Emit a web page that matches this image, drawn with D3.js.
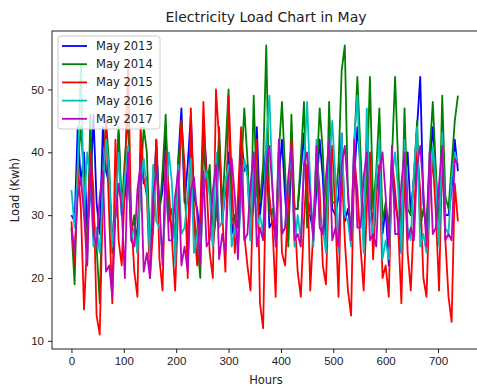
<!DOCTYPE html>
<html>
<head>
<meta charset="utf-8">
<script src="https://cdn.jsdelivr.net/npm/d3@7"></script>
<style>
  body { margin: 0; background: #fff; }
  svg { display: block; font-family: "DejaVu Sans", sans-serif; }
  .axis text { font-size: 11.5px; fill: #222; }
  .axis path, .axis line { stroke: #222; }
</style>
</head>
<body>
<div id="chart"></div>
<script>
// one reading every 6 hours, [00h, 06h, 12h, 18h] per day, 31 days of May
const hourStep = 6;
const totalHours = 743;
const seriesNames = ['May 2013', 'May 2014', 'May 2015', 'May 2016', 'May 2017'];
const seriesColors = ['#0000ff', '#008000', '#ff0000', '#00bfbf', '#bf00bf'];
const xTicks = [0, 100, 200, 300, 400, 500, 600, 700];
const yTicks = [10, 20, 30, 40, 50];

const load2013 = [
  30, 29, 44, 35,  40, 28, 33, 46,  32, 27, 44, 37,  35, 26, 30, 43,
  30, 33, 38, 28,  29, 26, 40, 35,  36, 25, 31, 42,  31, 34, 44, 30,
  28, 26, 39, 47,  32, 38, 46, 33,  31, 27, 45, 37,  36, 26, 30, 42,
  29, 34, 40, 27,  30, 28, 43, 37,  38, 27, 32, 44,  30, 35, 41, 28,
  29, 27, 36, 42,  33, 26, 40, 31,  31, 37, 43, 30,  30, 27, 34, 42,
  36, 25, 41, 31,  30, 33, 43, 29,  31, 27, 36, 44,  38, 26, 42, 32,
  29, 34, 38, 27,  31, 22, 37, 32,  29, 24, 35, 40,  30, 36, 44, 52,
  32, 27, 38, 44,  36, 26, 41, 30,  30, 34, 42, 37
];
const load2014 = [
  28, 19, 38, 44,  36, 22, 46, 30,  25, 16, 36, 45,  38, 24, 30, 44,
  31, 39, 46, 27,  30, 24, 35, 44,  40, 23, 28, 41,  30, 37, 46, 29,
  31, 26, 38, 45,  35, 24, 44, 30,  26, 20, 42, 34,  38, 25, 30, 44,
  31, 40, 50, 29,  30, 25, 37, 47,  39, 26, 49, 33,  32, 38, 57, 30,
  31, 26, 40, 48,  37, 25, 46, 31,  31, 39, 48, 28,  32, 27, 36, 47,
  40, 26, 48, 32,  32, 38, 53, 57,  33, 27, 41, 52,  40, 28, 35, 52,
  31, 37, 47, 29,  32, 28, 39, 52,  38, 26, 47, 31,  30, 36, 45, 28,
  31, 28, 40, 48,  37, 27, 49, 33,  31, 38, 45, 49
];
const load2015 = [
  29, 22, 38, 31,  15, 26, 40, 34,  14, 11, 33, 45,  30, 16, 42, 26,
  22, 35, 54, 30,  21, 17, 44, 36,  33, 20, 28, 42,  23, 18, 40, 34,
  26, 18, 32, 45,  38, 20, 47, 29,  22, 30, 48, 35,  24, 20, 50, 42,
  30, 21, 49, 36,  24, 33, 44, 27,  22, 18, 36, 42,  16, 12, 38, 33,
  28, 17, 40, 24,  22, 32, 42, 30,  21, 17, 29, 38,  18, 28, 40, 34,
  22, 19, 36, 41,  30, 17, 38, 26,  18, 14, 39, 34,  25, 18, 31, 40,
  23, 33, 38, 20,  22, 17, 39, 34,  28, 16, 38, 24,  18, 30, 40, 34,
  20, 17, 33, 39,  30, 18, 40, 26,  17, 13, 35, 29
];
const load2016 = [
  34, 28, 37, 54,  30, 40, 36, 25,  28, 24, 34, 42,  37, 25, 30, 40,
  30, 36, 41, 26,  28, 24, 35, 39,  34, 23, 38, 29,  28, 24, 31, 40,
  35, 22, 38, 27,  28, 33, 39, 24,  27, 23, 35, 37,  33, 25, 40, 28,
  29, 35, 38, 25,  28, 25, 32, 39,  36, 26, 40, 28,  30, 27, 42, 49,
  34, 26, 38, 27,  28, 35, 40, 25,  30, 26, 38, 48,  35, 25, 42, 29,
  28, 24, 38, 45,  36, 24, 43, 30,  29, 25, 42, 49,  35, 24, 47, 30,
  27, 36, 42, 23,  26, 23, 36, 40,  34, 24, 42, 28,  26, 37, 44, 25,
  27, 24, 33, 41,  35, 25, 43, 28,  27, 36, 40, 38
];
const load2017 = [
  28, 24, 33, 36,  30, 22, 38, 27,  25, 33, 37, 21,  22, 17, 30, 35,
  31, 20, 40, 26,  25, 34, 38, 21,  24, 20, 33, 37,  32, 22, 38, 26,
  26, 33, 37, 22,  25, 21, 34, 36,  30, 22, 37, 25,  26, 34, 38, 23,
  27, 24, 36, 39,  33, 23, 38, 26,  27, 35, 40, 25,  28, 26, 38, 41,
  34, 25, 42, 27,  28, 36, 41, 26,  27, 25, 38, 40,  33, 26, 41, 28,
  27, 36, 42, 26,  28, 25, 38, 41,  34, 26, 42, 28,  28, 36, 40, 26,
  27, 25, 37, 40,  33, 25, 41, 27,  27, 35, 40, 26,  28, 26, 38, 41,
  34, 25, 40, 27,  28, 35, 41, 26,  27, 26, 39, 38
];
const seriesValues = [load2013, load2014, load2015, load2016, load2017];

const width = 477, height = 390;
const margin = { top: 31, right: -3, bottom: 41, left: 52 };
const plotW = width - margin.left - margin.right;
const plotH = height - margin.top - margin.bottom;

const svg = d3.select('#chart').append('svg')
  .attr('width', width)
  .attr('height', height);

// matplotlib style 5% padding around the data
const allValues = seriesValues.flat();
const yMin = d3.min(allValues), yMax = d3.max(allValues);
const yPad = (yMax - yMin) * 0.05;
const xPad = totalHours * 0.05;

const x = d3.scaleLinear().domain([-xPad, totalHours + xPad]).range([0, plotW]);
const y = d3.scaleLinear().domain([yMin - yPad, yMax + yPad]).range([plotH, 0]);

const g = svg.append('g').attr('transform', `translate(${margin.left},${margin.top})`);

const line = d3.line()
  .x((d, i) => x(i * hourStep))
  .y(d => y(d));

seriesValues.forEach((vals, k) => {
  g.append('path')
    .datum(vals)
    .attr('fill', 'none')
    .attr('stroke', seriesColors[k])
    .attr('stroke-width', 1.8)
    .attr('stroke-linejoin', 'round')
    .attr('d', line);
});

// axes
g.append('g')
  .attr('class', 'axis')
  .attr('transform', `translate(0,${plotH})`)
  .call(d3.axisBottom(x).tickValues(xTicks).tickSize(4).tickPadding(4))
  .call(a => a.select('.domain').remove());
g.append('g')
  .attr('class', 'axis')
  .call(d3.axisLeft(y).tickValues(yTicks).tickSize(4).tickPadding(4))
  .call(a => a.select('.domain').remove());

// frame
g.append('rect')
  .attr('width', plotW)
  .attr('height', plotH)
  .attr('fill', 'none')
  .attr('stroke', '#222')
  .attr('stroke-width', 1);

// titles
svg.append('text')
  .attr('x', margin.left + plotW / 2)
  .attr('y', 22)
  .attr('text-anchor', 'middle')
  .style('font-size', '14px')
  .style('fill', '#222')
  .text('Electricity Load Chart in May');
svg.append('text')
  .attr('x', margin.left + plotW / 2)
  .attr('y', 384)
  .attr('text-anchor', 'middle')
  .style('font-size', '11.5px')
  .style('fill', '#222')
  .text('Hours');
svg.append('text')
  .attr('transform', `translate(19,${margin.top + plotH / 2}) rotate(-90)`)
  .attr('text-anchor', 'middle')
  .style('font-size', '11.5px')
  .style('fill', '#222')
  .text('Load (Kwh)');

// legend
const legend = svg.append('g').attr('transform', 'translate(58,36)');
legend.append('rect')
  .attr('width', 102)
  .attr('height', 93)
  .attr('rx', 3)
  .attr('fill', '#fff')
  .attr('fill-opacity', 0.8)
  .attr('stroke', '#ccc');
seriesNames.forEach((name, k) => {
  const row = legend.append('g').attr('transform', `translate(0,${10 + k * 18.2})`);
  row.append('line')
    .attr('x1', 4).attr('x2', 29)
    .attr('stroke', seriesColors[k])
    .attr('stroke-width', 1.8);
  row.append('text')
    .attr('x', 38)
    .attr('dy', '0.35em')
    .style('font-size', '11.5px')
    .style('fill', '#222')
    .text(name);
});
</script>
</body>
</html>
